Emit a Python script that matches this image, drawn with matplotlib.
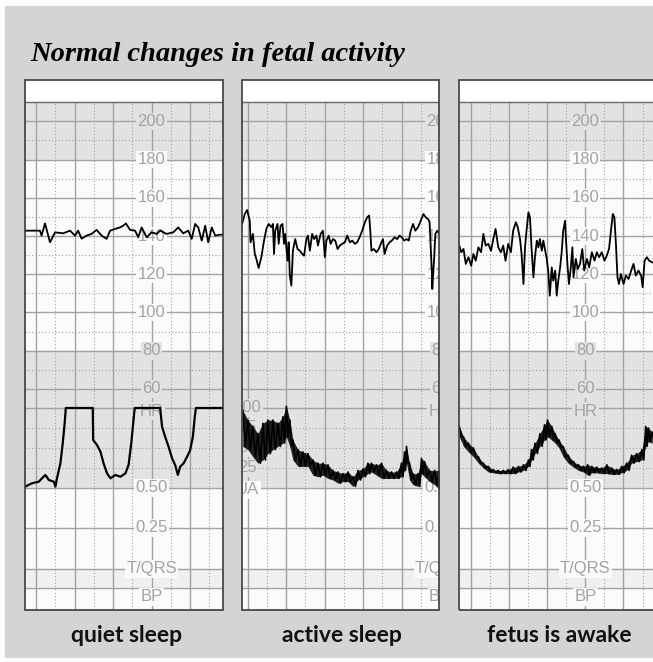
import numpy as np
import matplotlib.pyplot as plt
from matplotlib.transforms import Bbox, TransformedBbox

# ---- data read off the strips (t in minutes from panel left edge) ----
# upper trace: fetal heart rate (bpm); lower trace: uterine activity (0-100)

qs_hr_t = [0, 0.39, 0.43, 0.52, 0.65, 0.78, 0.99, 1.17, 1.30, 1.38, 1.47, 1.60, 1.73, 1.86,
           1.99, 2.12, 2.21, 2.34, 2.47, 2.55, 2.62, 2.73, 2.86, 2.94, 3.03, 3.16, 3.29, 3.42,
           3.51, 3.68, 3.85, 3.98, 4.11, 4.24, 4.33, 4.42, 4.50, 4.59, 4.68, 4.76, 4.85, 4.94,
           5.06, 5.14]
qs_hr = [142.8, 142.8, 140.2, 146.6, 136.7, 141.9, 141.4, 142.8, 140.2, 142.8, 138.6, 140.2,
         141.1, 143.2, 140.2, 138.5, 142.8, 143.7, 144.5, 145.4, 146.6, 143.2, 142.8, 139.3,
         144.5, 139.3, 141.9, 141.1, 142.8, 141.1, 141.9, 144.5, 141.4, 142.8, 138.5, 146.3,
         144.5, 137.6, 145.4, 136.7, 144.5, 140.2, 140.7, 140.7]

qs_ua_t = [0.0, 0.18, 0.36, 0.44, 0.53, 0.62, 0.75, 0.79, 0.83, 0.92, 0.98, 1.03, 1.06, 1.76,
           1.77, 1.87, 1.96, 2.04, 2.13, 2.22, 2.35, 2.48, 2.61, 2.69, 2.76, 2.81, 2.85, 3.51,
           3.56, 3.64, 3.73, 3.82, 3.90, 3.97, 4.03, 4.12, 4.21, 4.29, 4.36, 4.41, 4.44, 5.16]
qs_ua = [1.6, 5.9, 7.9, 12.1, 16.3, 10.0, 7.9, 1.6, 12.1, 30.9, 55.9, 80.9, 100, 100,
         60.0, 53.8, 45.4, 30.9, 18.4, 12.1, 16.3, 14.1, 18.4, 28.8, 55.9, 80.9, 100, 100,
         76.6, 64.1, 51.6, 37.1, 28.8, 16.3, 26.6, 30.9, 39.1, 47.5, 64.1, 89.1, 100, 100]

as_hr_t = [0.01, 0.08, 0.14, 0.21, 0.23, 0.29, 0.34, 0.38, 0.44, 0.51, 0.58, 0.64, 0.70, 0.77,
           0.81, 0.84, 0.87, 0.93, 0.96, 1.01, 1.06, 1.10, 1.13, 1.19, 1.22, 1.25, 1.29, 1.33,
           1.39, 1.45, 1.51, 1.57, 1.62, 1.68, 1.72, 1.77, 1.83, 1.88, 1.94, 1.98, 2.05, 2.11,
           2.16, 2.20, 2.26, 2.31, 2.37, 2.43, 2.49, 2.55, 2.61, 2.68, 2.74, 2.81, 2.87, 2.94,
           3.00, 3.06, 3.13, 3.20, 3.26, 3.31, 3.34, 3.37, 3.43, 3.50, 3.56, 3.63, 3.67, 3.71,
           3.78, 3.84, 3.90, 3.97, 4.04, 4.10, 4.16, 4.22, 4.28, 4.34, 4.39, 4.45, 4.51, 4.58,
           4.65, 4.72, 4.78, 4.84, 4.88, 4.91, 4.94, 4.95, 5.00, 5.03, 5.08, 5.14]
as_hr = [146.3, 151.5, 153.6, 148.0, 136.7, 141.1, 130.6, 128.0, 123.3, 128.9, 137.6, 143.7,
         146.3, 144.6, 146.3, 130.6, 142.8, 146.3, 135.9, 145.4, 146.3, 135.9, 141.1, 127.1,
         136.7, 119.3, 114.0, 132.3, 138.4, 133.2, 132.3, 130.6, 129.7, 138.4, 140.2, 132.3,
         141.1, 138.4, 140.2, 135.0, 141.1, 142.8, 128.9, 137.6, 140.2, 135.9, 138.4, 137.6,
         133.2, 135.0, 135.9, 136.7, 140.2, 136.7, 137.6, 135.9, 136.7, 139.3, 142.8, 147.2,
         149.8, 150.7, 142.8, 132.3, 133.2, 131.5, 133.2, 136.7, 138.4, 130.6, 135.0, 136.7,
         137.6, 139.3, 138.4, 140.2, 139.3, 137.6, 138.4, 137.6, 142.8, 146.3, 142.8, 144.6,
         148.0, 151.5, 149.8, 148.9, 147.2, 134.1, 120.1, 112.3, 128.9, 141.1, 142.8, 141.1]

as_ua_t = [0.03, 0.16, 0.29, 0.42, 0.55, 0.68, 0.81, 0.94, 1.07, 1.16, 1.25, 1.33, 1.46, 1.59,
           1.72, 1.85, 1.98, 2.11, 2.24, 2.37, 2.50, 2.63, 2.76, 2.89, 3.02, 3.15, 3.28, 3.37,
           3.50, 3.63, 3.76, 3.89, 4.02, 4.15, 4.23, 4.28, 4.36, 4.45, 4.58, 4.67, 4.75, 4.88,
           5.01, 5.14]
as_ua_hi = [97, 85, 77, 68, 81, 85, 85, 81, 89, 102, 85, 60, 48, 45, 43, 35, 31, 31, 29, 22,
            20, 18, 20, 14, 22, 24, 31, 31, 29, 31, 22, 20, 20, 31, 45, 52, 31, 18, 18, 37, 33,
            22, 22, 22]
as_ua_lo = [52, 48, 39, 31, 35, 43, 48, 52, 56, 64, 52, 35, 27, 27, 27, 16, 14, 16, 12, 10,
            6, 8, 8, 2, 10, 14, 18, 20, 16, 12, 12, 12, 12, 14, 22, 31, 10, 4, 2, 18, 14, 8,
            4, -2]

aw_hr_t = [0.0, 0.05, 0.11, 0.17, 0.24, 0.31, 0.37, 0.43, 0.50, 0.57, 0.63, 0.69, 0.76, 0.83,
           0.89, 0.95, 1.02, 1.09, 1.15, 1.21, 1.28, 1.35, 1.41, 1.48, 1.53, 1.59, 1.63, 1.68,
           1.72, 1.76, 1.81, 1.85, 1.89, 1.94, 1.98, 2.03, 2.07, 2.11, 2.16, 2.20, 2.24, 2.29,
           2.33, 2.37, 2.42, 2.46, 2.51, 2.55, 2.59, 2.64, 2.68, 2.72, 2.77, 2.79, 2.83, 2.87,
           2.92, 2.96, 2.99, 3.05, 3.10, 3.16, 3.22, 3.27, 3.34, 3.40, 3.47, 3.54, 3.60, 3.66,
           3.73, 3.80, 3.86, 3.92, 3.97, 4.02, 4.06, 4.10, 4.14, 4.18, 4.23, 4.30, 4.36, 4.43,
           4.50, 4.56, 4.62, 4.69, 4.76, 4.80, 4.85, 4.91, 4.97, 5.05]
aw_hr = [135.0, 131.5, 133.2, 125.4, 128.9, 124.5, 130.6, 127.1, 134.1, 131.5, 141.1, 135.0,
         135.9, 132.3, 138.4, 143.7, 134.1, 131.5, 135.0, 127.1, 135.9, 131.5, 142.8, 147.2,
         144.6, 138.4, 130.6, 114.9, 134.1, 142.8, 152.4, 149.8, 134.1, 118.4, 128.9, 137.6,
         134.1, 138.4, 132.3, 137.6, 133.2, 128.0, 121.0, 108.8, 123.6, 116.6, 121.9, 108.8,
         116.6, 123.6, 131.5, 142.8, 148.0, 139.3, 125.4, 114.9, 123.6, 134.1, 118.4, 128.0,
         122.7, 125.4, 133.2, 121.9, 128.0, 123.6, 131.5, 127.1, 131.5, 128.9, 131.5, 127.1,
         129.7, 133.2, 142.8, 151.5, 149.8, 135.9, 118.4, 114.9, 120.1, 114.9, 119.3, 117.5,
         121.9, 125.4, 119.3, 121.9, 119.3, 113.2, 127.1, 128.9, 127.1, 126.2]

aw_ua_t = [0.0, 0.11, 0.24, 0.37, 0.50, 0.63, 0.76, 0.89, 1.02, 1.15, 1.28, 1.41, 1.55, 1.68,
           1.81, 1.89, 1.98, 2.11, 2.23, 2.31, 2.42, 2.51, 2.61, 2.72, 2.85, 2.99, 3.12, 3.25,
           3.36, 3.47, 3.60, 3.73, 3.86, 3.99, 4.12, 4.25, 4.38, 4.51, 4.64, 4.78, 4.88, 4.95,
           5.05]
aw_ua_hi = [77, 64, 56, 50, 39, 31, 27, 23, 22, 22, 23, 26, 27, 29, 35, 48, 56, 68, 79, 85,
            77, 68, 60, 52, 41, 33, 29, 27, 29, 27, 26, 25, 29, 25, 23, 27, 31, 41, 43, 48, 77,
            75, 70]
aw_ua_lo = [64, 52, 45, 39, 31, 25, 20, 19, 18, 18, 18, 18, 20, 22, 27, 35, 43, 52, 60, 64,
            60, 56, 50, 39, 31, 26, 22, 20, 16, 19, 19, 18, 18, 17, 17, 19, 22, 31, 33, 35, 52,
            58, 56]

captions = ["quiet sleep", "active sleep", "fetus is awake"]
bpm_ticks = [200, 180, 160, 140, 120, 100, 80, 60]
st_labels = ["0.50", "0.25", "T/QRS", "BP"]
st_levels = [0, -50, -101, -136]
ua_labels = ["100", "75", "50", "25", "UA"]
ua_levels = [100, 75, 50, 25, -2.5]

# ---- layout (pixels of the 653x662 picture) ----
W, H = 653, 662
px_left = [25, 241.7, 459.3]
px_right = [222.7, 439, 653]
px_min = [38.5, 38.5, 38.2]          # pixels per minute
grid_off = [0.286, 0.156, 0.298]     # first major line, minutes
hr_col = [3, 5, 3]                   # major line carrying HR / ST labels
ua_col = [None, 0, None]
cap_x = [127, 342, 559]
Y_TOP, Y_GRID, Y_HR, Y_BOT = 80, 101.7, 408, 610
BPM_PX = 1.911
UA_PX = 0.8
bpm_top = 50 + (Y_HR - Y_TOP) / BPM_PX
bpm_grid = 50 + (Y_HR - Y_GRID) / BPM_PX
ua_bot = 100 - (Y_BOT - Y_HR) / UA_PX

GRAY = '#e2e2e2'
WHITE = '#fbfbfb'
LGRAY = '#f0f0f0'
LINE = '#a2a2a2'
TXT = '#a3a3a3'
lab_font = ['Liberation Sans', 'DejaVu Sans']

fig = plt.figure(figsize=(W / 100, H / 100), dpi=100)
fig.patch.set_facecolor('white')
fig.patches.append(plt.Rectangle((5 / W, 1 - 657 / H), 1, (657 - 6) / H,
                                 transform=fig.transFigure, color='#d4d4d4', zorder=-5))

fig.text(30 / W, 1 - 61 / H, "Normal changes in fetal activity", family='Liberation Serif',
         style='italic', weight='bold', size=20.5, va='baseline', ha='left')

traces = [(qs_hr_t, qs_hr, qs_ua_t, qs_ua, None),
          (as_hr_t, as_hr, as_ua_t, as_ua_hi, as_ua_lo),
          (aw_hr_t, aw_hr, aw_ua_t, aw_ua_hi, aw_ua_lo)]

for i in range(3):
    l, r = px_left[i], px_right[i]
    xmax = (r - l) / px_min[i]
    clip = TransformedBbox(Bbox.from_extents(l / W, 1 - Y_BOT / H, r / W, 1 - Y_GRID / H),
                           fig.transFigure)
    up = fig.add_axes([l / W, 1 - Y_HR / H, (r - l) / W, (Y_HR - Y_TOP) / H])
    lo = fig.add_axes([l / W, 1 - Y_BOT / H, (r - l) / W, (Y_BOT - Y_HR) / H])
    up.set_ylim(50, bpm_top)
    lo.set_ylim(ua_bot, 100)
    for ax in (up, lo):
        ax.set_xlim(0, xmax)
        ax.axis('off')
        ax.patch.set_alpha(0)

    # bands
    up.axhspan(bpm_grid, bpm_top, color='white', zorder=0)
    up.axhspan(180, bpm_grid, color=GRAY, zorder=0)
    up.axhspan(80, 180, color=WHITE, zorder=0)
    up.axhspan(50, 80, color=GRAY, zorder=0)
    lo.axhspan(0, 100, color=GRAY, zorder=0)
    lo.axhspan(-101, 0, color=WHITE, zorder=0)
    lo.axhspan(-125, -101, color=LGRAY, zorder=0)
    lo.axhspan(ua_bot, -125, color=WHITE, zorder=0)

    # grid
    majors = [grid_off[i] + k for k in range(-1, 8) if 0 < grid_off[i] + k < xmax]
    minors = [grid_off[i] + k + 0.5 for k in range(-1, 8) if 0 < grid_off[i] + k + 0.5 < xmax]
    up.vlines(majors, 50, bpm_grid, color=LINE, lw=1.0, zorder=1)
    lo.vlines(majors, ua_bot, 100, color=LINE, lw=1.0, zorder=1)
    up.vlines(minors, 50, bpm_grid, color=LINE, lw=0.8, ls=(0, (1, 2)), zorder=1)
    lo.vlines(minors, ua_bot, 100, color=LINE, lw=0.8, ls=(0, (1, 2)), zorder=1)
    up.hlines(list(range(60, 201, 20)), 0, xmax, color=LINE, lw=1.0, zorder=1)
    up.hlines(list(range(70, 200, 20)), 0, xmax, color=LINE, lw=0.8, ls=(0, (1, 2)), zorder=1)
    up.hlines([bpm_grid], 0, xmax, color='#6a6a6a', lw=1.0, zorder=1)
    lo.hlines([100, 0, -50, -101, -125], 0, xmax, color=LINE, lw=1.0, zorder=1, clip_on=False)
    lo.hlines([75, 50, 25], 0, xmax, color=LINE, lw=0.8, ls=(0, (1, 2)), zorder=1)

    # scale labels
    def label(ax, x, y, s, bg):
        t = ax.text(x, y, s, ha='center', va='center', color=TXT, size=12, family=lab_font,
                    zorder=2, bbox=dict(boxstyle='square,pad=0.08', fc=bg, ec='none'))
        t.set_clip_on(True)
        t.set_clip_box(clip)

    xc = grid_off[i] + hr_col[i]
    for v in bpm_ticks:
        label(up, xc, v, str(v), GRAY if v in (200, 80, 60) else WHITE)
    label(lo, xc, 96, "HR", GRAY)
    for s, v in zip(st_labels, st_levels):
        label(lo, xc, v, s, WHITE)
    if ua_col[i] is not None:
        xu = grid_off[i] + ua_col[i]
        for s, v in zip(ua_labels, ua_levels):
            label(lo, xu, v, s, GRAY if v > 0 else WHITE)

    # traces
    ht, hv, ut, uh, ul = traces[i]
    ln, = up.plot(ht, hv, color='black', lw=1.3, zorder=3)
    ln.set_clip_box(clip)
    if ul is None:
        ln, = lo.plot(ut, uh, color='black', lw=1.6, zorder=3)
        ln.set_clip_box(clip)
    else:
        f = lo.fill_between(ut, ul, uh, color='black', alpha=0.85, lw=0, zorder=3)
        f.set_clip_box(clip)
        half = np.diff(ut, append=ut[-1] + 0.13) / 2
        zt = np.ravel(np.column_stack([ut, np.array(ut) + half]))
        zv = np.ravel(np.column_stack([uh, ul]))
        ln, = lo.plot(zt, zv, color='black', lw=1.2, zorder=3)
        ln.set_clip_box(clip)

    # border
    fig.patches.append(plt.Rectangle((l / W, 1 - Y_BOT / H), (r - l + (20 if i == 2 else 0)) / W,
                                     (Y_BOT - Y_TOP) / H, transform=fig.transFigure, fill=False,
                                     ec='#3c3c3c', lw=1.2, zorder=5))
    fig.text(cap_x[i] / W, 1 - 636 / H, captions[i], ha='center', va='center', family='Lato',
             weight='bold', size=16.5, color='#111111')

fig.savefig('out.png', dpi=100)
